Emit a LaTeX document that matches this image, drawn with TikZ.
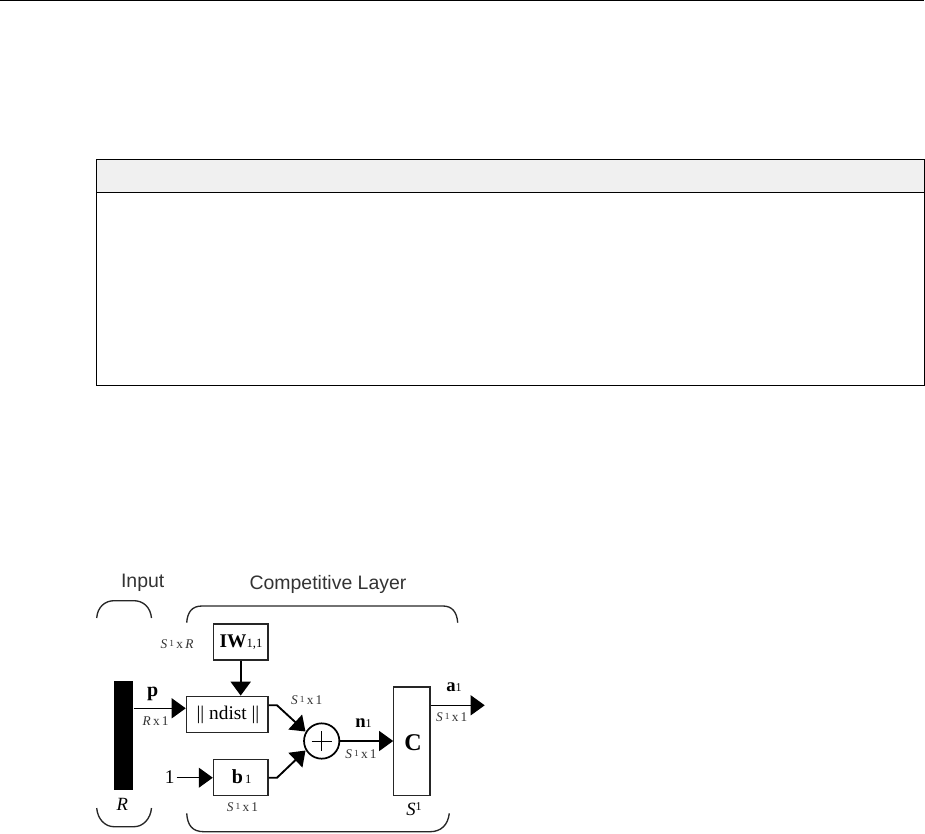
\documentclass[tikz,border=0pt]{standalone}
\usepackage{fontspec}
\setmainfont{Liberation Serif}
\setsansfont{Liberation Sans}
\usetikzlibrary{arrows.meta}
\tikzset{
  px/.style={x=0.75pt,y=-0.75pt},
  blockbox/.style={draw=black!85,line width=0.9pt,fill=white,inner sep=0pt,minimum width=0pt},
  thinwire/.style={draw=black,line width=0.8pt,-{Triangle[length=10.5pt,width=15pt]}},
  thickwire/.style={draw=black,line width=1.7pt,-{Triangle[length=10.5pt,width=15pt]}},
  plainline/.style={draw=black,line width=0.9pt},
  bracket/.style={draw=black!85,line width=1pt},
  dimlabel/.style={inner sep=0pt,font=\fontsize{10}{11}\selectfont,text=black!80},
  varlabel/.style={inner sep=0pt,font=\fontsize{15}{16}\selectfont\bfseries},
  titlelabel/.style={inner sep=0pt,font=\sffamily\fontsize{14.6}{16}\selectfont,text=black!80},
  tablerule/.style={draw=black,line width=0.75pt}
}
\newcommand{\dimtext}{\textit{S}\,\raisebox{0.35ex}{\fontsize{7}{8}\selectfont 1}\,x\,1}
\begin{document}
\begin{tikzpicture}[px]
\useasboundingbox (0,0) rectangle (925,833);
% page rule and table
\coordinate (ruleL) at (0,0.6);
\coordinate (ruleR) at (924,0.6);
\draw[tablerule] (ruleL) -- (ruleR);
\path[fill=black!6] (96.5,159.5) rectangle (924,192);
\draw[tablerule] (96.5,159.5) rectangle (924,385);
\draw[tablerule] (96.5,192) -- (924,192);
% blocks
\node[fill=black,inner sep=0pt,minimum width=14.7pt,minimum height=82pt] (bar) at (123.5,735.3) {};
\node[blockbox,minimum width=41pt,minimum height=27pt] (iw) at (240.7,642) {};
\node[blockbox,minimum width=61.3pt,minimum height=27pt] (nd) at (227.2,714.2) {};
\node[blockbox,minimum width=41pt,minimum height=27pt] (bb) at (240.7,777.7) {};
\node[blockbox,minimum width=27.2pt,minimum height=81.5pt] (cc) at (411.9,741.3) {};
\node[circle,draw=black,line width=1.3pt,minimum size=26.5pt,inner sep=0pt] (sum) at (321.7,741) {};
\draw[plainline,line width=0.6pt] (311.7,741) -- (331.7,741) (321.7,731) -- (321.7,751);
% labels
\node[titlelabel] (tinput) at (142.7,582.5) {Input};
\node[titlelabel] (tcomp) at (328,584) {Competitive Layer};
\node[dimlabel] (dsr) at (177,644.5) {\textit{S}\,\raisebox{0.35ex}{\fontsize{7}{8}\selectfont 1}\,x\,\textit{R}};
\node[varlabel] (lp) at (152.7,694) {p};
\node[dimlabel] (drx) at (155.7,721.5) {\textit{R}\,x\,1};
\node[inner sep=0pt,font=\fontsize{14.5}{15}\selectfont] (liw) at (241,642) {\textbf{IW}{\fontsize{9.5}{10}\selectfont 1,1}};
\node[inner sep=0pt,font=\fontsize{14.5}{15}\selectfont] (lnd) at (228,714.5) {|| ndist ||};
\node[inner sep=0pt,font=\fontsize{15}{16}\selectfont] (lb) at (241.7,777) {\textbf{b}{\fontsize{9.5}{10}\selectfont\,1}};
\node[dimlabel] (dsb) at (242.5,807) {\dimtext};
\node[inner sep=0pt,font=\fontsize{14.5}{15}\selectfont] (lone) at (169.8,777.5) {1};
\node[inner sep=0pt,font=\itshape\fontsize{14}{15}\selectfont] (lr) at (122.3,804) {R};
\node[dimlabel] (dsa) at (306.7,700.5) {\dimtext};
\node[inner sep=0pt,font=\fontsize{14}{15}\selectfont] (ln) at (363.5,723.5) {\textbf{n}{\fontsize{9}{10}\selectfont 1}};
\node[dimlabel] (dsn) at (361,754.5) {\dimtext};
\node[inner sep=0pt,font=\bfseries\fontsize{18}{20}\selectfont] (lc) at (413,742.5) {C};
\node[inner sep=0pt,font=\fontsize{14}{15}\selectfont] (ls) at (414,809) {\textit{S}\raisebox{0.6ex}{\fontsize{9}{10}\selectfont 1}};
\node[inner sep=0pt,font=\fontsize{14}{15}\selectfont] (la) at (454,687.5) {\textbf{a}{\fontsize{9}{10}\selectfont 1}};
\node[dimlabel] (dso) at (451.7,717.5) {\dimtext};
% connectors
\coordinate (pstart) at (bar.east |- 0,708.3);
\coordinate (pend) at (nd.west |- 0,708.3);
\draw[thinwire] (pstart) -- (pend);
\draw[thickwire] (iw.south) -- (iw.south |- nd.north);
\coordinate (ndout) at (nd.east |- 0,705.3);
\coordinate (ndbend) at (277,705.3);
\coordinate (tipa) at (305.5,731.5);
\draw[thinwire,line width=1.4pt] (ndout) -- (ndbend) -- (tipa);
\coordinate (bout) at (bb.east);
\coordinate (bbend) at (277,777.7);
\coordinate (tipb) at (305.5,750.5);
\draw[thinwire,line width=1.4pt] (bout) -- (bbend) -- (tipb);
\coordinate (oneend) at (bb.west);
\coordinate (onestart) at (176.7,777.7);
\draw[thinwire] (onestart) -- (oneend);
\draw[thinwire] (sum.east) -- (cc.west |- sum.east);
\coordinate (aout) at (484.7,705.3);
\draw[thinwire] (cc.east |- aout) -- (aout);
% braces
\draw[bracket] (96.7,618) .. controls (97.5,607) and (105,600.7) .. (114,600.7) -- (134,600.7) .. controls (143,600.7) and (150.5,607) .. (151.5,618);
\draw[bracket] (96.7,808) .. controls (97.5,819) and (105,826.7) .. (114,826.7) -- (134,826.7) .. controls (143,826.7) and (150.5,819) .. (151.5,808);
\draw[bracket] (186.7,622.7) .. controls (187.5,612) and (192,606) .. (202,606) -- (443,606) .. controls (452,606) and (457,612) .. (457.7,622.7);
\draw[bracket] (186.7,813.3) .. controls (187.5,825) and (192,831.7) .. (204,831.7) -- (430,831.7) .. controls (441,831.7) and (448,825) .. (449.3,813.3);
\end{tikzpicture}
\end{document}
